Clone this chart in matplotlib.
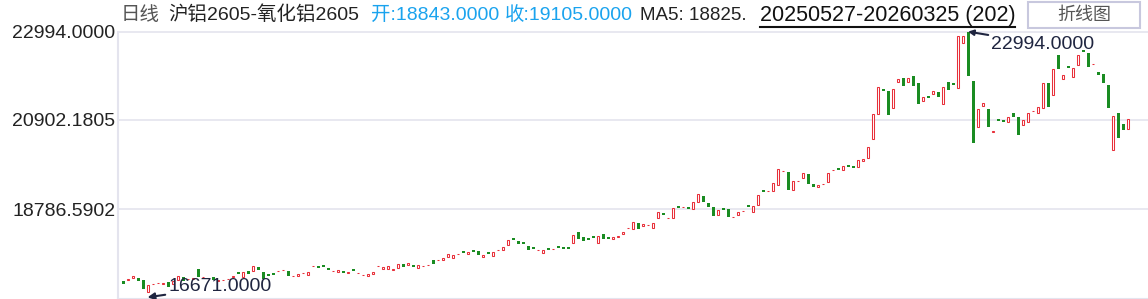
import matplotlib.pyplot as plt
from matplotlib.patches import Rectangle
from matplotlib.lines import Line2D

plt.rcParams['font.family'] = ['Liberation Sans', 'Noto Sans CJK SC', 'DejaVu Sans']

# daily open / close, 2025-05-27 .. 2026-03-25 (202 bars)
opens = [17091, 17120, 17150, 17150, 17102, 16818, 17008, 17039, 17027, 17067,
         17020, 17107, 17192, 17134, 17146, 17368, 17174, 17157, 17178, 17098,
         17103, 17127, 17188, 17260, 17178, 17327, 17316, 17415, 17311, 17213,
         17237, 17323, 17347, 17327, 17198, 17216, 17269, 17240, 17435, 17395,
         17419, 17398, 17323, 17292, 17327, 17288, 17324, 17269, 17224, 17216,
         17263, 17435, 17382, 17382, 17354, 17387, 17493, 17477, 17470, 17406,
         17435, 17466, 17588, 17584, 17595, 17666, 17642, 17719, 17751, 17737,
         17774, 17801, 17659, 17734, 17690, 17821, 17832, 17950, 18058, 18038,
         18014, 17919, 17845, 17814, 17761, 17822, 17837, 17869, 17852, 17896,
         17998, 18251, 18132, 18058, 18106, 17983, 18204, 18132, 18092, 18132,
         18211, 18335, 18315, 18457, 18381, 18408, 18334, 18571, 18701, 18571,
         18575, 18816, 18834, 18843, 18784, 18968, 19103, 18945, 18843, 18646,
         18819, 18796, 18595, 18646, 18744, 18840, 18717, 18883, 19195, 19218,
         19229, 19357, 19684, 19672, 19253, 19448, 19523, 19624, 19388, 19324,
         19384, 19428, 19708, 19716, 19712, 19787, 19763, 19797, 19925, 19996,
         20446, 21038, 21637, 21590, 21194, 21810, 21898, 21810, 21945, 21779,
         21346, 21421, 21512, 21566, 21275, 21803, 21779, 21668, 22719, 22994,
         21834, 20730, 21242, 21164, 20612, 20883, 20903, 20849, 21062, 20974,
         20778, 20849, 21112, 21062, 21180, 21772, 21488, 22442, 21867, 22175,
         21914, 22198, 22517, 22483, 22225, 22040, 21992, 21732, 20186, 21069,
         20801, 20683]
closes = [17013, 17130, 17202, 17079, 16889, 16996, 17016, 17047, 17035, 16956,
          17091, 17202, 17091, 17142, 17154, 17192, 17182, 17165, 17114, 17106,
          17111, 17135, 17196, 17252, 17311, 17256, 17446, 17358, 17138, 17205,
          17229, 17331, 17355, 17209, 17206, 17249, 17277, 17297, 17443, 17387,
          17411, 17358, 17331, 17344, 17287, 17296, 17316, 17277, 17232, 17256,
          17304, 17443, 17422, 17439, 17362, 17493, 17427, 17517, 17422, 17470,
          17443, 17474, 17493, 17592, 17635, 17730, 17706, 17727, 17743, 17777,
          17766, 17706, 17706, 17726, 17777, 17829, 17896, 18062, 18050, 17974,
          17967, 17825, 17837, 17822, 17825, 17814, 17845, 17861, 17844, 17848,
          18180, 18092, 18038, 18050, 18098, 18149, 18092, 18092, 18132, 18163,
          18258, 18343, 18483, 18329, 18436, 18416, 18459, 18717, 18661, 18579,
          18812, 18808, 18842, 18784, 18954, 19151, 18961, 18850, 18637, 18772,
          18772, 18613, 18603, 18725, 18752, 18832, 18860, 19120, 19187, 19226,
          19404, 19736, 19692, 19253, 19459, 19456, 19641, 19395, 19324, 19364,
          19392, 19641, 19716, 19708, 19814, 19779, 19755, 19949, 19980, 20264,
          21045, 21685, 21597, 21029, 21637, 21874, 21715, 21898, 21715, 21289,
          21448, 21413, 21590, 21455, 21685, 21621, 21725, 22892, 22892, 21952,
          20366, 21164, 21306, 20744, 20643, 20875, 20863, 20967, 20967, 20548,
          20903, 21062, 21120, 21204, 21772, 21218, 22104, 22118, 21969, 22134,
          22134, 22442, 22509, 22151, 22233, 21962, 21786, 21187, 20998, 20484,
          20659, 20927]

y_ticks = [22994.0, 20902.1805, 18786.5902]
y_labels = ['22994.0000', '20902.1805', '18786.5902']
period_low = 16671.0
period_high = 22994.0
low_idx = 5
high_idx = 169

RED = '#e8303a'
GREEN = '#1a8c22'
GRID = '#e4e4ee'

fig = plt.figure(figsize=(11.48, 2.99), dpi=100)
ax = fig.add_axes([118/1148, 0.4/299, 1030/1148, 267/299])

up_x, up_b, up_h = [], [], []
dn_x, dn_b, dn_h = [], [], []
for i in range(len(opens)):
    o, c = opens[i], closes[i]
    lo = min(o, c)
    h = abs(c - o)
    if c >= o:
        up_x.append(i); up_b.append(lo); up_h.append(max(h, 12))
    else:
        dn_x.append(i); dn_b.append(lo); dn_h.append(max(h, 45))

ax.bar(up_x, up_h, bottom=up_b, width=0.48, facecolor='white', edgecolor=RED, linewidth=0.75, zorder=3)
ax.bar(dn_x, dn_h, bottom=dn_b, width=0.6, color=GREEN, linewidth=0, zorder=3)

ax.set_xlim(-1, 205)
ax.set_ylim(period_low, period_high)

for t in y_ticks:
    ax.axhline(t, color=GRID, lw=1.2, zorder=1, clip_on=False)
ax.set_yticks(y_ticks, y_labels)
ax.tick_params(axis='y', length=0, pad=2, labelsize=14, labelcolor='#222222')
ax.set_xticks([])
for s in ['top', 'right']:
    ax.spines[s].set_visible(False)
ax.spines['left'].set_color(GRID)
ax.spines['bottom'].set_color(GRID)
ax.spines['left'].set_linewidth(1.5)
ax.spines['bottom'].set_linewidth(1.5)

ax.annotate('22994.0000', xy=(high_idx, period_high), xytext=(173.6, 22700),
            ha='left', va='center', fontsize=14, color='#1f2540', annotation_clip=False,
            arrowprops=dict(arrowstyle='-|>', color='#1f2540', lw=1.5, mutation_scale=8,
                            shrinkA=0, shrinkB=0))
ax.annotate('16671.0000', xy=(low_idx - 0.1, period_low + 30), xytext=(9.0, 16950),
            ha='left', va='center', fontsize=14, color='#1f2540', annotation_clip=False,
            arrowprops=dict(arrowstyle='-|>', color='#1f2540', lw=1.5, mutation_scale=10,
                            shrinkA=0, shrinkB=0))

# header row
hy = 1 - 15/299
fig.text(121/1148, hy, '日线', fontsize=14, color='#555555', va='center')
fig.text(168/1148, hy, '沪铝2605-氧化铝2605', fontsize=14, color='#222222', va='center')
fig.text(371/1148, hy, '开:18843.0000', fontsize=14, color='#1aa3ee', va='center')
fig.text(505/1148, hy, '收:19105.0000', fontsize=14, color='#1aa3ee', va='center')
fig.text(640/1148, hy, 'MA5: 18825.', fontsize=13.5, color='#222222', va='center')
fig.text(760/1148, hy, '20250527-20260325 (202)', fontsize=15.5, color='#111111', va='center')
fig.add_artist(Line2D([760/1148, 1015/1148], [1 - 27/299] * 2, color='#111111', lw=1.5))

fig.add_artist(Rectangle((1028/1148, 1 - 28/299), 112/1148, 26/299, transform=fig.transFigure,
                         facecolor='white', edgecolor='#c8c8de', lw=1.5))
fig.text(1084/1148, 1 - 15/299, '折线图', fontsize=13, color='#555555', ha='center', va='center')

fig.savefig('out.png', dpi=100)
